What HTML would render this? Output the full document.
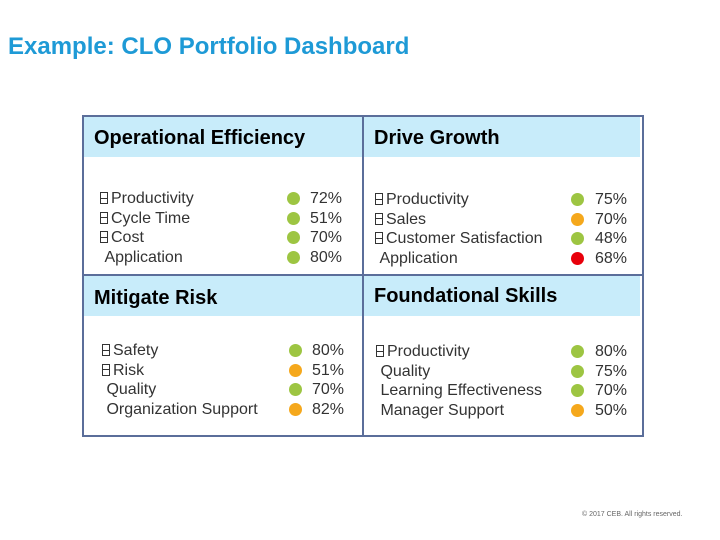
<!DOCTYPE html>
<html><head><meta charset="utf-8"><style>
body{margin:0;width:720px;height:540px;background:#fff;position:relative;overflow:hidden;font-family:"Liberation Sans",sans-serif;}
.abs{position:absolute;}
.title{left:8px;top:33px;font-size:24px;font-weight:bold;color:#1E9AD6;}
.frame{left:82px;top:115px;width:558px;height:318px;border:2px solid #5B6E9A;}
.vline{left:362px;top:115px;width:2px;height:322px;background:#5B6E9A;}
.hline{left:82px;top:274px;width:562px;height:2px;background:#5B6E9A;}
.hdr{background:#C8ECFA;font-weight:bold;font-size:20px;color:#000;box-sizing:border-box;padding-left:10px;}
.row{font-size:16px;color:#333;height:19.5px;line-height:19.5px;white-space:nowrap;}
.dot{width:13px;height:13px;border-radius:50%;}
.g{background:#9DC542}.o{background:#F5A81C}.r{background:#E8000B}
.ic{display:inline-block;width:8px;height:12px;border:1px solid #333;box-sizing:border-box;margin-right:3px;vertical-align:-1px;background:linear-gradient(#333,#333) center/100% 1px no-repeat;}
.copy{left:582px;top:511px;font-size:7px;color:#666;}
</style></head><body>
<div class="abs title">Example: CLO Portfolio Dashboard</div>
<div class="abs frame"></div>

<div class="abs hdr" style="left:84px;top:117px;width:278px;height:40px;line-height:42px;">Operational Efficiency</div>
<div class="abs hdr" style="left:364px;top:117px;width:276px;height:40px;line-height:42px;">Drive Growth</div>
<div class="abs hdr" style="left:84px;top:276px;width:278px;height:40px;line-height:44px;">Mitigate Risk</div>
<div class="abs hdr" style="left:364px;top:276px;width:276px;height:40px;line-height:40px;">Foundational Skills</div>

<div class="abs vline"></div>
<div class="abs hline"></div>

<div id="panels"></div>
<div class="abs copy">© 2017 CEB. All rights reserved.</div>

<script>
const panelLabels=[
 ["Productivity","Cycle Time","Cost","Application"],
 ["Productivity","Sales","Customer Satisfaction","Application"],
 ["Safety","Risk","Quality","Organization Support"],
 ["Productivity","Quality","Learning Effectiveness","Manager Support"]];
const panelIcons=[[1,1,1,0],[1,1,1,0],[1,1,0,0],[1,0,0,0]];
const panelValues=[[72,51,70,80],[75,70,48,68],[80,51,70,82],[80,75,70,50]];
const panelStatus=[["g","g","g","g"],["g","o","g","r"],["g","o","g","o"],["g","g","g","o"]];
const panelNames=["operational-efficiency","drive-growth","mitigate-risk","foundational-skills"];
const origins=[[100,189],[375,190],[102,341],[376,342]];
const dotX=[287,571,289,571], valX=[310,595,312,595];
const host=document.getElementById('panels');
panelLabels.forEach((labels,p)=>{
  labels.forEach((lab,i)=>{
    const y=origins[p][1]+i*19.6;
    const r=document.createElement('div');
    r.className='abs row';
    r.style.left=origins[p][0]+'px';r.style.top=y+'px';
    r.innerHTML=(panelIcons[p][i]?'<span class="ic"></span>':'&nbsp;')+lab;
    
    
    host.appendChild(r);
    const d=document.createElement('div');
    d.className='abs dot '+panelStatus[p][i];
    d.style.left=dotX[p]+'px';d.style.top=(y+3)+'px';
    
    
    host.appendChild(d);
    const v=document.createElement('div');
    v.className='abs row';
    v.style.left=valX[p]+'px';v.style.top=y+'px';
    v.textContent=panelValues[p][i]+'%';
    
    
    host.appendChild(v);
  });
});
</script>
</body></html>
